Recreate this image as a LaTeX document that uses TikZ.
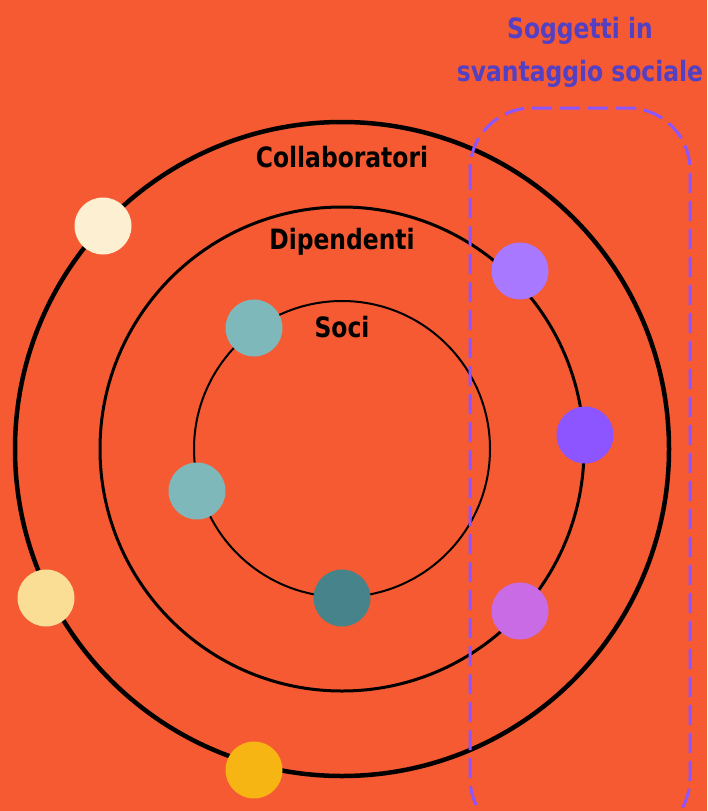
\documentclass[tikz,border=0pt]{standalone}
\usepackage{fontspec}
\setmainfont{DejaVu Sans Condensed}
\newfontfamily\labelfont{DejaVu Sans Condensed}[FakeStretch=0.93]
\usepackage{tikz}
\usetikzlibrary{positioning}
\definecolor{bgorange}{HTML}{F55A32}
\definecolor{cream}{HTML}{FDF0D2}
\definecolor{paleyellow}{HTML}{FADE96}
\definecolor{gold}{HTML}{F6B513}
\definecolor{lightteal}{HTML}{7FB8BA}
\definecolor{darkteal}{HTML}{46838B}
\definecolor{lilac}{HTML}{A878FF}
\definecolor{violet}{HTML}{8C55FF}
\definecolor{orchid}{HTML}{C96BE5}
\definecolor{titleblue}{HTML}{5340C3}

\begin{document}
\begin{tikzpicture}[x=1pt,y=-1pt,
              ring/.style={black},
              dot/.style={circle, minimum size=57pt, inner sep=0pt, fill=#1},
              ringlabel/.style={font=\labelfont\bfseries\fontsize{28}{30}\selectfont, black},
              grouplabel/.style={font=\labelfont\bfseries\fontsize{28}{43}\selectfont, titleblue, align=center},
              groupbox/.style={violet, line width=3pt, dash pattern=on 20pt off 8pt, rounded corners=62pt},
             ]
\fill[bgorange] (0,0) rectangle (707,811);
\useasboundingbox (0,0) rectangle (707,811);
\coordinate (center) at (342,449);
% rings
\draw[ring, line width=4.5pt] (center) circle (327);
\draw[ring, line width=3pt] (center) circle (242);
\draw[ring, line width=2pt] (center) circle (148);
% labels
\node[ringlabel] (collab) at (342,157) {Collaboratori};
\node[ringlabel] (dip) at (342,242) {Dipendenti};
\node[ringlabel] (soci) at (342,327) {Soci};
% group box
\draw[groupbox] (470,108) rectangle (690,840);
\node[grouplabel] (group) at (580,52) {Soggetti in\\svantaggio sociale};
% dots
\node[dot=cream] (c1) at (103,226) {};
\node[dot=paleyellow] (c2) at (46,598) {};
\node[dot=gold] (c3) at (254,770) {};
\node[dot=lilac] (d1) at (520,271) {};
\node[dot=violet] (d2) at (585,435) {};
\node[dot=orchid] (d3) at (520,611) {};
\node[dot=lightteal] (s1) at (254,328) {};
\node[dot=lightteal] (s2) at (197,491) {};
\node[dot=darkteal] (s3) at (342,598) {};
\end{tikzpicture}
\end{document}
